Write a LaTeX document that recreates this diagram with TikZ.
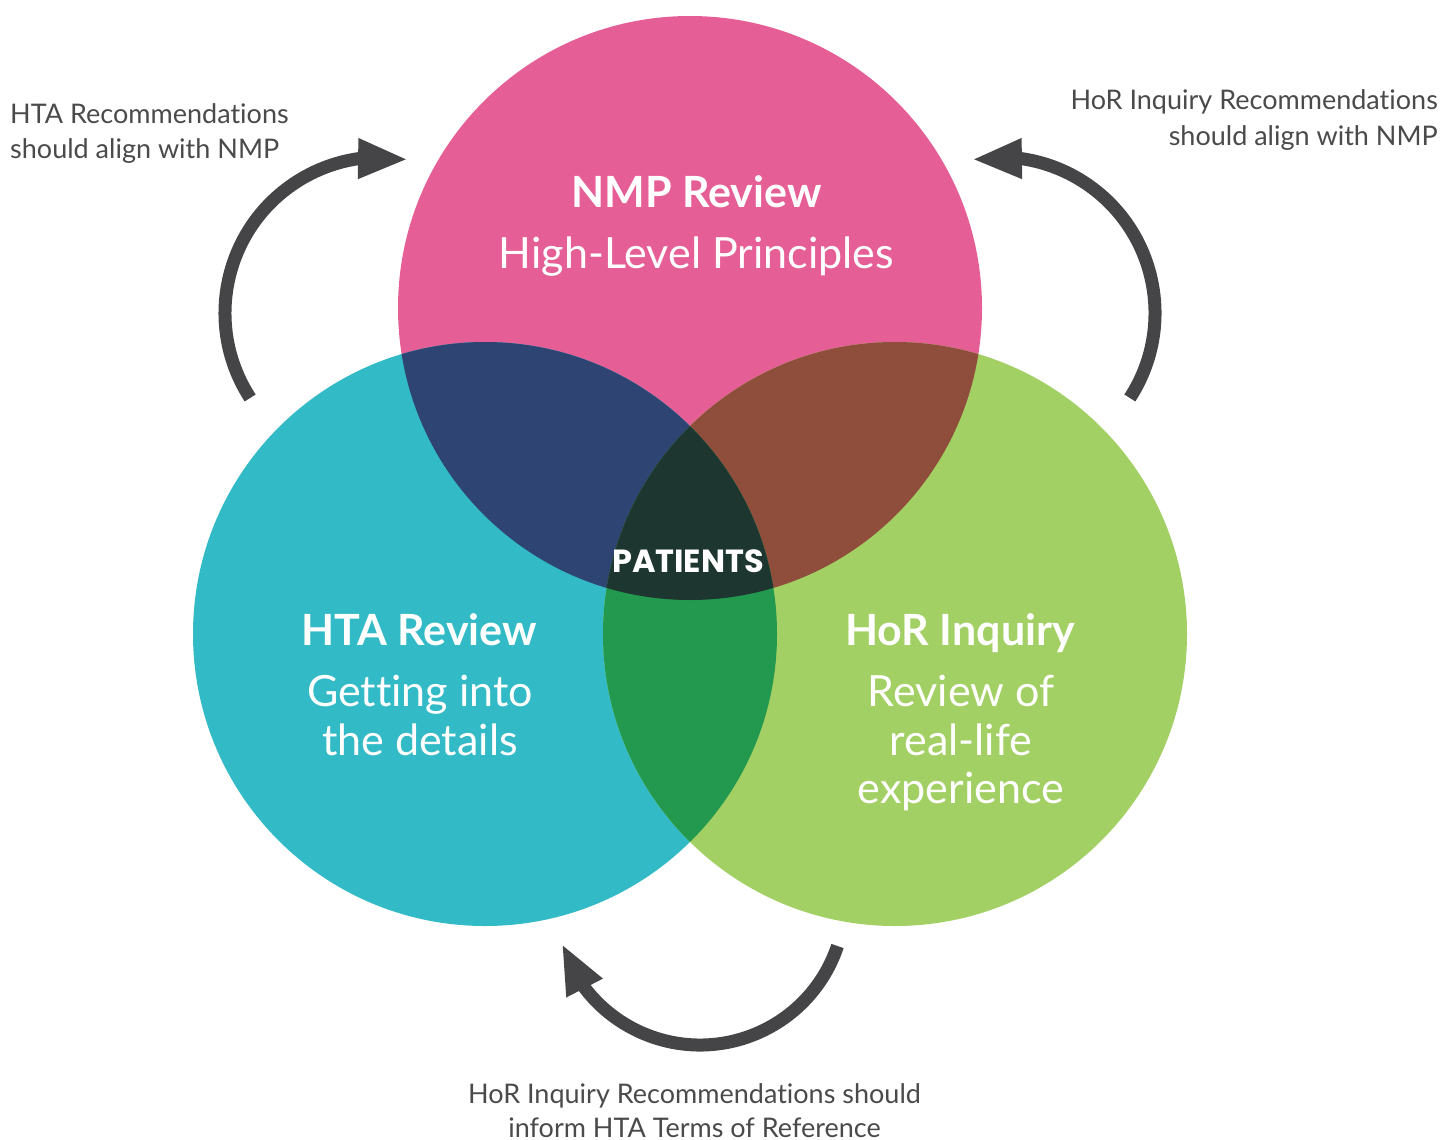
\documentclass[tikz,border=0pt]{standalone}
\usepackage{fontspec}
\setmainfont{Lato}[Ligatures=NoCommon]
\newfontfamily\patfont{Poppins}
\usetikzlibrary{arrows.meta,bending}
\definecolor{cpink}{HTML}{E55F96}
\definecolor{cteal}{HTML}{33BAC7}
\definecolor{cgreen}{HTML}{A3D064}
\definecolor{cblue}{HTML}{2E4473}
\definecolor{cbrown}{HTML}{8E4E3B}
\definecolor{cdgreen}{HTML}{22994F}
\definecolor{ccenter}{HTML}{1D3630}
\definecolor{carrow}{HTML}{454547}
\definecolor{ctext}{HTML}{4A4A4A}
\tikzset{
  small/.style={inner sep=0pt, text=ctext, font=\fontsize{27}{32}\selectfont},
  bigb/.style={inner sep=0pt, text=white, font=\fontsize{43}{50}\selectfont\bfseries},
  bigr/.style={inner sep=0pt, text=white, font=\fontsize{43}{50}\selectfont},
  pat/.style={inner sep=0pt, text=white, font=\fontsize{32}{38}\selectfont\patfont\bfseries},
  arr/.style={draw=carrow, line width=13pt, line cap=butt, -{Triangle[length=50pt,width=37pt]}},
}
\begin{document}
\begin{tikzpicture}[x=1pt,y=-1pt]
\useasboundingbox (0,0) rectangle (1443,1140);
\coordinate (T) at (690,308);
\coordinate (L) at (485,634);
\coordinate (R) at (895,634);
\def\rr{292}
% circles
\fill[cpink] (T) circle[radius=\rr];
\fill[cteal] (L) circle[radius=\rr];
\fill[cgreen] (R) circle[radius=\rr];
\begin{scope}
  \clip (T) circle[radius=\rr];
  \fill[cblue] (L) circle[radius=\rr];
  \fill[cbrown] (R) circle[radius=\rr];
\end{scope}
\begin{scope}
  \clip (L) circle[radius=\rr];
  \fill[cdgreen] (R) circle[radius=\rr];
\end{scope}
\begin{scope}
  \clip (T) circle[radius=\rr];
  \clip (L) circle[radius=\rr];
  \fill[ccenter] (R) circle[radius=\rr];
\end{scope}
% arrows
\coordinate (LA) at (381,313);
\coordinate (RA) at (999,313);
\coordinate (BA) at (700,900);
\draw[arr] ([shift={(147:156)}]LA) arc[start angle=147, end angle=280, radius=156];
\draw[arr] ([shift={(33:156)}]RA) arc[start angle=33, end angle=-100, radius=156];
\draw[arr] ([shift={(18.5:145)}]BA) arc[start angle=18.5, end angle=162.5, radius=145];
% small texts
\node[small, anchor=base west] (hta1) at (10,123) {HTA Recommendations};
\node[small, anchor=base west] (hta2) at (10,158) {should align with NMP};
\node[small, anchor=base east] (hor1) at (1438,110) {HoR Inquiry Recommendations};
\node[small, anchor=base east] (hor2) at (1438,145) {should align with NMP};
\node[small, anchor=base] (bot1) at (694.5,1103) {HoR Inquiry Recommendations should};
\node[small, anchor=base] (bot2) at (694.5,1137) {inform HTA Terms of Reference};
% big texts
\node[bigb, anchor=base] (nmp) at (696.5,207) {NMP Review};
\node[bigr, anchor=base] (nmp2) at (696.5,268) {High-Level Principles};
\node[bigb, anchor=base] (hta) at (419,645) {HTA Review};
\node[bigr, anchor=base] (htaa) at (420,706) {Getting into};
\node[bigr, anchor=base] (htab) at (420,755) {the details};
\node[bigb, anchor=base] (hor) at (960,645) {HoR Inquiry};
\node[bigr, anchor=base] (hora) at (961,706) {Review of};
\node[bigr, anchor=base] (horb) at (961,755) {real-life};
\node[bigr, anchor=base] (horc) at (961,803) {experience};
\node[pat, anchor=base] (pat) at (688,572) {PATIENTS};
\end{tikzpicture}
\end{document}
